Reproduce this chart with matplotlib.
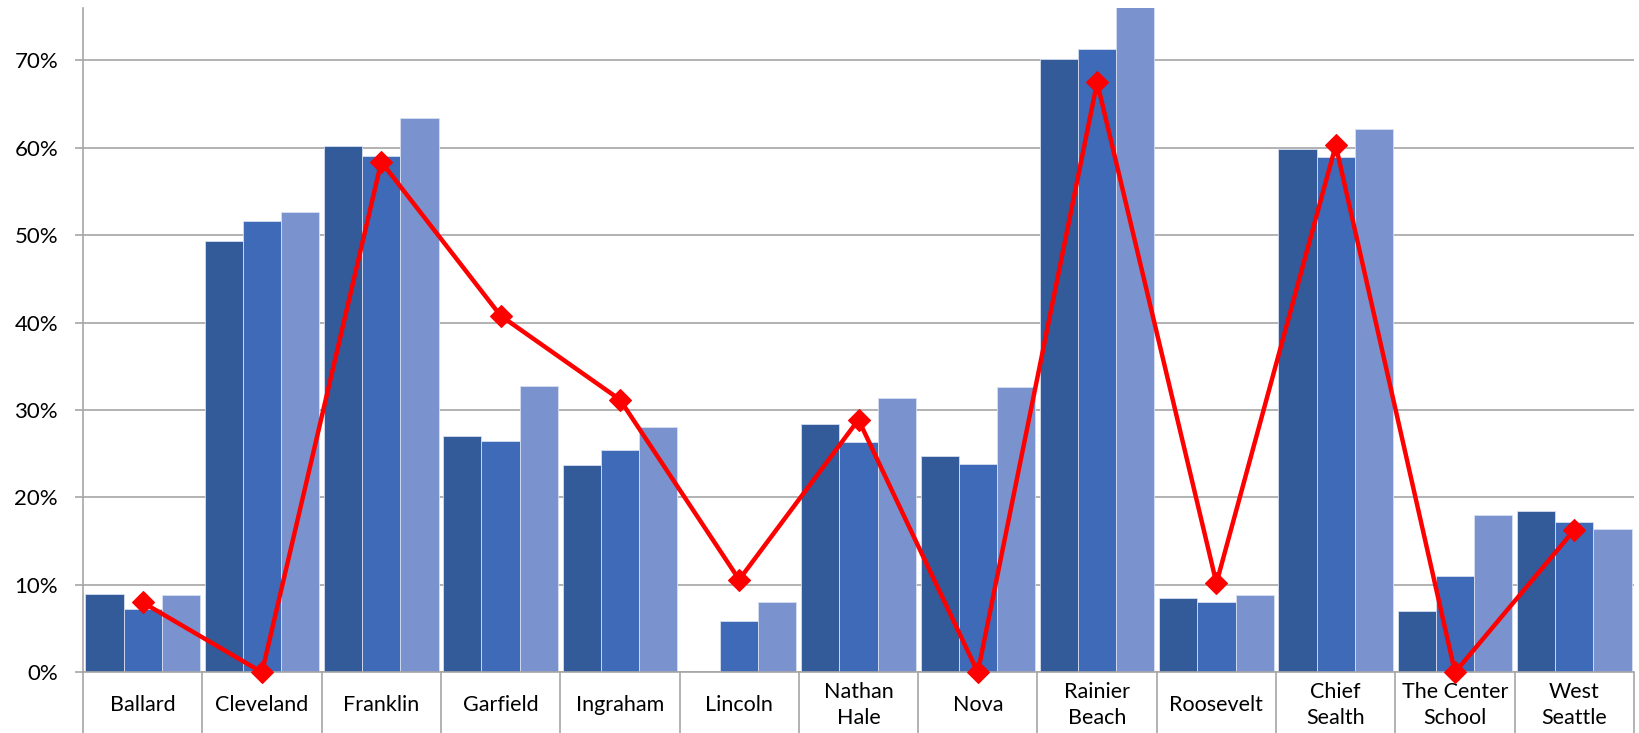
import numpy as np
import matplotlib.pyplot as plt
from matplotlib.ticker import PercentFormatter

plt.rcParams['font.family'] = ['Lato', 'DejaVu Sans']

schools = ["Ballard", "Cleveland", "Franklin", "Garfield", "Ingraham", "Lincoln",
           "Nathan\nHale", "Nova", "Rainier\nBeach", "Roosevelt", "Chief\nSealth",
           "The Center\nSchool", "West\nSeattle"]

# three bar series (fractions) and the red line series
series_a = [0.0896, 0.494, 0.602, 0.270, 0.237, 0.0, 0.284, 0.248, 0.702, 0.085, 0.599, 0.070, 0.185]
series_b = [0.072, 0.516, 0.591, 0.265, 0.254, 0.059, 0.263, 0.238, 0.713, 0.080, 0.589, 0.1105, 0.172]
series_c = [0.089, 0.527, 0.634, 0.328, 0.281, 0.080, 0.314, 0.326, 0.770, 0.0885, 0.621, 0.180, 0.164]
line_vals = [0.080, 0.0, 0.584, 0.408, 0.312, 0.106, 0.289, 0.0, 0.675, 0.102, 0.603, 0.0, 0.163]

bar_colors = ["#335A99", "#3E6AB7", "#7A93CF"]
grid_gray = "#A6A6A6"

fig = plt.figure(figsize=(16.4, 7.33), dpi=100)
ax = fig.add_axes([83 / 1640, 1 - 672.3 / 733, (1634 - 83) / 1640, (672.3 - 8) / 733])

x = np.arange(len(schools))
w = 0.32
for i, (vals, col) in enumerate(zip([series_a, series_b, series_c], bar_colors)):
    ax.bar(x + (i - 1) * w, vals, width=w, color=col, edgecolor="#D6DEF0",
           linewidth=0.6, zorder=2)

ax.plot(x, line_vals, color="#FF0000", lw=3.2, marker="D", markersize=11,
        markeredgewidth=0.8, zorder=3, clip_on=False)

ax.set_xlim(-0.5, len(schools) - 0.5)
ax.set_ylim(0, 0.76)
ax.set_yticks(np.arange(0, 0.71, 0.1))
ax.yaxis.set_major_formatter(PercentFormatter(1.0, decimals=0))
ax.grid(axis="y", color=grid_gray, lw=1.2, zorder=0)
ax.set_axisbelow(True)

for s in ["top", "right"]:
    ax.spines[s].set_visible(False)
ax.spines["left"].set_color(grid_gray)
ax.spines["bottom"].set_color(grid_gray)
ax.spines["left"].set_linewidth(1.2)
ax.spines["bottom"].set_linewidth(1.2)

ax.tick_params(axis="y", length=6, width=1.2, color=grid_gray, pad=12, labelsize=16)

# category labels centred in the band below the axis, dividers as long minor ticks
ax.set_xticks(x)
ax.set_xticklabels(schools, fontsize=15.5, linespacing=1.4)
ax.tick_params(axis="x", which="major", length=0, pad=23.5)
for t in ax.get_xticklabels():
    t.set_va("center")
ax.set_xticks(np.arange(-0.5, len(schools), 1.0), minor=True)
ax.tick_params(axis="x", which="minor", length=46, width=1.2, color=grid_gray)

fig.savefig("out.png", dpi=100)
